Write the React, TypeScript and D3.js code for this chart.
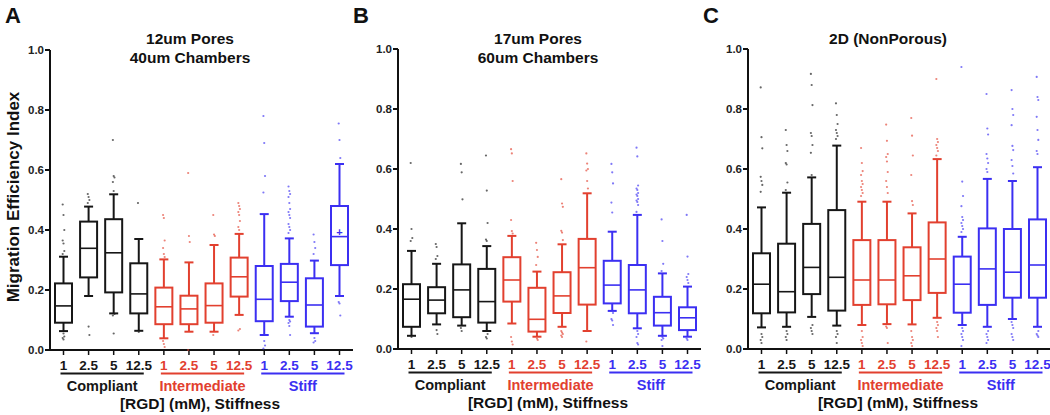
import React from "react";
import * as d3 from "d3";

const DOSES = ["1", "2.5", "5", "12.5"];
const GROUPS = ["Compliant", "Intermediate", "Stiff"];
const GROUP_COLORS = ["#161616", "#e2402f", "#3b2ff2"];
const Y_TICKS = [0, 0.2, 0.4, 0.6, 0.8, 1.0];

// Panel A: 12um Pores / 40um Chambers
const A_low = [0.063, 0.18, 0.122, 0.064, 0.039, 0.061, 0.061, 0.117, 0.05, 0.111, 0.056, 0.18];
const A_q1 = [0.091, 0.242, 0.192, 0.122, 0.086, 0.086, 0.091, 0.178, 0.096, 0.163, 0.078, 0.283];
const A_median = [0.147, 0.339, 0.324, 0.187, 0.144, 0.137, 0.148, 0.244, 0.169, 0.226, 0.15, 0.378];
const A_q3 = [0.222, 0.428, 0.436, 0.289, 0.208, 0.181, 0.222, 0.308, 0.28, 0.287, 0.239, 0.48];
const A_high = [0.311, 0.478, 0.519, 0.37, 0.302, 0.292, 0.35, 0.387, 0.453, 0.372, 0.298, 0.62];
const A_outliers = [
  [0.485, 0.45, 0.4, 0.365, 0.355, 0.33, 0.32, 0.055, 0.045, 0.04, 0.035],
  [0.52, 0.51, 0.5, 0.49, 0.078, 0.05],
  [0.7, 0.58, 0.575, 0.56, 0.53, 0.12, 0.115, 0.055],
  [0.49, 0.06],
  [0.45, 0.44, 0.365, 0.34, 0.32, 0.31, 0.03, 0.02, 0.01],
  [0.59, 0.38, 0.36, 0.0],
  [0.45, 0.385, 0.38, 0.05],
  [0.49, 0.48, 0.47, 0.46, 0.45, 0.43, 0.41, 0.4, 0.07, 0.065],
  [0.78, 0.69, 0.58, 0.525, 0.03, 0.015, 0.005],
  [0.545, 0.53, 0.52, 0.51, 0.49, 0.47, 0.46, 0.45, 0.44, 0.42, 0.41, 0.4, 0.39, 0.1, 0.095, 0.09, 0.08, 0.05],
  [0.385, 0.36, 0.34, 0.32, 0.04, 0.03, 0.025],
  [0.755, 0.7, 0.64, 0.16, 0.155, 0.115],
];
const A_means = [null, null, null, null, null, null, null, null, null, null, null, 0.395];

// Panel B: 17um Pores / 60um Chambers
const B_low = [0.044, 0.082, 0.078, 0.06, 0.085, 0.041, 0.074, 0.06, 0.127, 0.069, 0.044, 0.041];
const B_q1 = [0.074, 0.119, 0.106, 0.088, 0.158, 0.058, 0.12, 0.148, 0.152, 0.119, 0.078, 0.063];
const B_median = [0.166, 0.163, 0.197, 0.158, 0.23, 0.099, 0.177, 0.271, 0.213, 0.197, 0.121, 0.104];
const B_q3 = [0.216, 0.206, 0.282, 0.267, 0.306, 0.204, 0.256, 0.367, 0.294, 0.28, 0.174, 0.139];
const B_high = [0.327, 0.284, 0.419, 0.343, 0.377, 0.258, 0.349, 0.519, 0.391, 0.447, 0.252, 0.208];
const B_outliers = [
  [0.62, 0.4, 0.37, 0.36, 0.04],
  [0.35, 0.34, 0.31, 0.3, 0.063, 0.05],
  [0.617, 0.589, 0.499, 0.07, 0.06],
  [0.645, 0.528, 0.42, 0.365, 0.36, 0.05, 0.04, 0.035],
  [0.666, 0.652, 0.56, 0.43, 0.393, 0.385, 0.04, 0.025, 0.015],
  [0.354, 0.33, 0.307, 0.28, 0.035, 0.03],
  [0.566, 0.485, 0.474, 0.394, 0.388, 0.363, 0.06, 0.055, 0.05, 0.045, 0.04],
  [0.652, 0.618, 0.6, 0.595, 0.56, 0.535, 0.025],
  [0.617, 0.589, 0.552, 0.488, 0.455, 0.12, 0.1, 0.095, 0.08],
  [0.671, 0.642, 0.545, 0.535, 0.53, 0.52, 0.515, 0.51, 0.5, 0.495, 0.49, 0.48, 0.457, 0.06, 0.05, 0.04, 0.02, 0.015],
  [0.432, 0.36, 0.284, 0.26, 0.04, 0.035, 0.03, 0.01],
  [0.447, 0.308, 0.25, 0.24, 0.23, 0.22, 0.035, 0.03],
];

// Panel C: 2D (NonPorous)
const C_low = [0.072, 0.074, 0.107, 0.078, 0.08, 0.083, 0.082, 0.104, 0.08, 0.074, 0.1, 0.074];
const C_q1 = [0.119, 0.122, 0.183, 0.128, 0.147, 0.149, 0.163, 0.187, 0.121, 0.147, 0.171, 0.171];
const C_median = [0.216, 0.191, 0.272, 0.239, 0.23, 0.23, 0.244, 0.3, 0.216, 0.267, 0.256, 0.28];
const C_q3 = [0.319, 0.351, 0.417, 0.463, 0.363, 0.363, 0.339, 0.422, 0.308, 0.402, 0.4, 0.432];
const C_high = [0.472, 0.521, 0.572, 0.678, 0.491, 0.491, 0.452, 0.633, 0.374, 0.567, 0.56, 0.606];
const C_outliers = [
  [0.872, 0.706, 0.669, 0.574, 0.56, 0.547, 0.524, 0.05, 0.04, 0.03, 0.02],
  [0.73, 0.68, 0.66, 0.62, 0.615, 0.555, 0.53, 0.06, 0.05, 0.04, 0.03],
  [0.917, 0.88, 0.813, 0.72, 0.71, 0.68, 0.654, 0.58, 0.08, 0.07, 0.06, 0.05],
  [0.819, 0.78, 0.75, 0.73, 0.72, 0.71, 0.7, 0.06, 0.05, 0.04, 0.02],
  [0.67, 0.62, 0.593, 0.58, 0.56, 0.55, 0.54, 0.53, 0.52, 0.51, 0.06, 0.04, 0.03, 0.02, 0.01],
  [0.748, 0.694, 0.65, 0.64, 0.625, 0.59, 0.56, 0.54, 0.52, 0.075, 0.07, 0.02],
  [0.77, 0.711, 0.645, 0.58, 0.493, 0.48, 0.06, 0.04, 0.03, 0.02, 0.01],
  [0.9, 0.7, 0.69, 0.68, 0.67, 0.66, 0.645, 0.09, 0.08, 0.07, 0.06, 0.04],
  [0.94, 0.558, 0.51, 0.476, 0.44, 0.43, 0.42, 0.41, 0.4, 0.39, 0.07, 0.06, 0.05, 0.04, 0.03, 0.01],
  [0.85, 0.735, 0.715, 0.65, 0.635, 0.62, 0.6, 0.59, 0.06, 0.05, 0.04, 0.03, 0.02],
  [0.863, 0.8, 0.78, 0.746, 0.677, 0.663, 0.63, 0.61, 0.585, 0.09, 0.08, 0.07, 0.05, 0.04, 0.03],
  [0.907, 0.84, 0.83, 0.774, 0.73, 0.697, 0.66, 0.65, 0.06, 0.05, 0.045, 0.04],
];

const FONT = "'Liberation Sans', Arial, Helvetica, sans-serif";

type PanelData = {
  low: number[];
  q1: number[];
  median: number[];
  q3: number[];
  high: number[];
  outliers: number[][];
  means?: (number | null)[];
};

type PanelProps = {
  axisX: number;
  yBottom: number;
  letter: string;
  titles: string[];
  data: PanelData;
};

const CATS = GROUPS.flatMap((g, gi) => DOSES.map((d) => `${gi}-${d}`));

function Panel({ axisX, yBottom, letter, titles, data }: PanelProps) {
  const y = d3.scaleLinear().domain([0, 1]).range([yBottom, yBottom - 300]);
  const x = d3.scalePoint<string>().domain(CATS).range([axisX + 13.5, axisX + 289.5]);
  const axisEnd = axisX + 303;
  const boxW = 17;
  const capW = 9;
  return (
    <g fontFamily={FONT} fontWeight="bold">
      <text x={axisX - 45} y={23} fontSize={22} fill="#111">{letter}</text>
      {titles.map((t, i) => (
        <text key={t} x={axisX + 140} y={44 + i * 19} fontSize={15.5} textAnchor="middle" fill="#111">{t}</text>
      ))}
      {/* y axis */}
      <line x1={axisX} x2={axisX} y1={y(1)} y2={yBottom} stroke="#111" strokeWidth={2} />
      {Y_TICKS.map((t) => (
        <g key={t}>
          <line x1={axisX - 5} x2={axisX} y1={y(t)} y2={y(t)} stroke="#111" strokeWidth={2} />
          <text x={axisX - 6} y={y(t) + 4} fontSize={11.5} textAnchor="end" fill="#222">{d3.format(".1f")(t)}</text>
        </g>
      ))}
      {/* x axis */}
      <line x1={axisX - 1} x2={axisEnd} y1={yBottom} y2={yBottom} stroke="#111" strokeWidth={2} />
      {CATS.map((c, i) => {
        const gi = Math.floor(i / 4);
        const cx = x(c)!;
        return (
          <g key={c}>
            <line x1={cx} x2={cx} y1={yBottom} y2={yBottom + 5} stroke="#111" strokeWidth={1.5} />
            <text x={cx} y={yBottom + 20} fontSize={13.5} textAnchor="middle" fill={GROUP_COLORS[gi]}>{DOSES[i % 4]}</text>
          </g>
        );
      })}
      {GROUPS.map((g, gi) => {
        const x1 = x(CATS[gi * 4])!;
        const x2 = x(CATS[gi * 4 + 3])!;
        return (
          <g key={g}>
            <line x1={x1 - 3} x2={x2 + 5} y1={yBottom + 23.5} y2={yBottom + 23.5} stroke={GROUP_COLORS[gi]} strokeWidth={1.8} />
            <text x={(x1 + x2) / 2 + 1} y={yBottom + 41} fontSize={14.5} textAnchor="middle" fill={GROUP_COLORS[gi]}>{g}</text>
          </g>
        );
      })}
      <text x={axisX + 150} y={yBottom + 59} fontSize={15.5} textAnchor="middle" fill="#111">[RGD] (mM), Stiffness</text>
      {/* boxes */}
      {CATS.map((c, i) => {
        const gi = Math.floor(i / 4);
        const col = GROUP_COLORS[gi];
        const cx = x(c)!;
        const mean = data.means ? data.means[i] : null;
        return (
          <g key={"b" + c}>
            {data.outliers[i].map((v, k) => (
              <circle key={k} cx={cx + ((k % 3) - 1) * 0.8} cy={y(v)} r={1.1} fill={col} opacity={0.65} />
            ))}
            <line x1={cx} x2={cx} y1={y(data.high[i])} y2={y(data.q3[i])} stroke={col} strokeWidth={2} />
            <line x1={cx} x2={cx} y1={y(data.q1[i])} y2={y(data.low[i])} stroke={col} strokeWidth={2} />
            <line x1={cx - capW / 2} x2={cx + capW / 2} y1={y(data.high[i])} y2={y(data.high[i])} stroke={col} strokeWidth={2} />
            <line x1={cx - capW / 2} x2={cx + capW / 2} y1={y(data.low[i])} y2={y(data.low[i])} stroke={col} strokeWidth={2} />
            <rect x={cx - boxW / 2} y={y(data.q3[i])} width={boxW} height={y(data.q1[i]) - y(data.q3[i])} fill="none" stroke={col} strokeWidth={2} />
            <line x1={cx - boxW / 2} x2={cx + boxW / 2} y1={y(data.median[i])} y2={y(data.median[i])} stroke={col} strokeWidth={1.6} />
            {mean != null && (
              <text x={cx} y={y(mean) + 4} fontSize={11} textAnchor="middle" fill={col}>+</text>
            )}
          </g>
        );
      })}
    </g>
  );
}

export default function App() {
  return (
    <svg width={1050} height={415} style={{ position: "absolute", left: 0, top: 0, background: "#fff" }}>
      <rect width={1050} height={415} fill="#fff" />
      <text
        transform="translate(19,197) rotate(-90)"
        fontFamily={FONT}
        fontWeight="bold"
        fontSize={17}
        textAnchor="middle"
        fill="#111"
      >
        Migration Efficiency Index
      </text>
      <Panel
        axisX={50}
        yBottom={350}
        letter="A"
        titles={["12um Pores", "40um Chambers"]}
        data={{ low: A_low, q1: A_q1, median: A_median, q3: A_q3, high: A_high, outliers: A_outliers, means: A_means }}
      />
      <Panel
        axisX={398}
        yBottom={349}
        letter="B"
        titles={["17um Pores", "60um Chambers"]}
        data={{ low: B_low, q1: B_q1, median: B_median, q3: B_q3, high: B_high, outliers: B_outliers }}
      />
      <Panel
        axisX={748}
        yBottom={349}
        letter="C"
        titles={["2D (NonPorous)"]}
        data={{ low: C_low, q1: C_q1, median: C_median, q3: C_q3, high: C_high, outliers: C_outliers }}
      />
    </svg>
  );
}
